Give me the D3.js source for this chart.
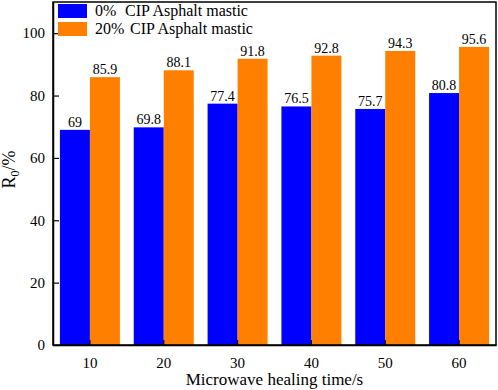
<!DOCTYPE html>
<html>
<head>
<meta charset="utf-8">
<script src="https://cdn.jsdelivr.net/npm/d3@7"></script>
</head>
<body style="margin:0; background:#fff">
<svg id="drawing_region"></svg>
<script>
// data
const times = ['10', '20', '30', '40', '50', '60'];
const series = [['0%', 'CIP Asphalt mastic'], ['20%', 'CIP Asphalt mastic']];
const plain = [69, 69.8, 77.4, 76.5, 75.7, 80.8];
const cip = [85.9, 88.1, 91.8, 92.8, 94.3, 95.6];
const yticks = [0, 20, 40, 60, 80, 100];
const colors = ['#0000ff', '#ff8000'];

const FONT = 'Liberation Serif, Times New Roman, serif';
const width = 498, height = 390;
const margin = {top: 2, right: 2, bottom: 45, left: 53};
const inner_width = width - margin.left - margin.right;
const inner_height = height - margin.top - margin.bottom;

const svg = d3.select('#drawing_region')
  .attr('width', width)
  .attr('height', height)
  .attr('font-family', FONT);

const chart = svg.append('g')
  .attr('transform', `translate(${margin.left}, ${margin.top})`);

const xscale = d3.scaleBand()
  .domain(times)
  .range([0, inner_width]);

// two bars side by side inside each band
const sub = d3.scaleBand()
  .domain([0, 1])
  .range([-30, 30]);

const yscale = d3.scaleLinear()
  .domain([0, 110])
  .range([inner_height, 0]);

const rows = times.map((t, i) => ({time: t, vals: [plain[i], cip[i]]}));

// bars
const groups = chart.selectAll('.grp').data(rows).enter()
  .append('g')
  .attr('transform', d => `translate(${xscale(d.time) + xscale.bandwidth() / 2}, 0)`);

groups.selectAll('rect').data(d => d.vals).enter()
  .append('rect')
  .attr('x', (d, i) => sub(i))
  .attr('y', d => yscale(d))
  .attr('width', sub.bandwidth())
  .attr('height', d => inner_height - yscale(d))
  .attr('fill', (d, i) => colors[i]);

groups.selectAll('.val').data(d => d.vals).enter()
  .append('text')
  .attr('x', (d, i) => sub(i) + sub.bandwidth() / 2)
  .attr('y', d => yscale(d) - 3)
  .attr('text-anchor', 'middle')
  .attr('font-family', FONT)
  .attr('font-size', 14)
  .text(d => d);

// axes
const xaxis = d3.axisBottom(xscale).tickSizeInner(-5).tickSizeOuter(0).tickPadding(12);
const yaxis = d3.axisLeft(yscale).tickValues(yticks).tickSizeInner(-6).tickSizeOuter(0).tickPadding(8);

const xg = chart.append('g')
  .attr('transform', `translate(0, ${inner_height})`)
  .call(xaxis);
const yg = chart.append('g').call(yaxis);

[xg, yg].forEach(g => {
  g.attr('font-family', FONT).attr('font-size', 15);
  g.selectAll('text').attr('fill', '#000').attr('font-family', FONT);
  g.selectAll('line').attr('stroke', '#000').attr('stroke-width', 1.2);
  g.select('.domain').attr('stroke', '#000').attr('stroke-width', 1.5);
});

// frame
chart.append('rect')
  .attr('width', inner_width)
  .attr('height', inner_height)
  .attr('fill', 'none')
  .attr('stroke', '#000')
  .attr('stroke-width', 1.5);

// legend
const legend = chart.append('g').attr('transform', 'translate(5, 2)');
series.forEach((s, i) => {
  const row = legend.append('g').attr('transform', `translate(0, ${i * 18})`);
  row.append('rect').attr('width', 29).attr('height', 14).attr('fill', colors[i]);
  const t = row.append('text').attr('y', 12).attr('font-size', 16).attr('font-family', FONT);
  t.append('tspan').attr('x', 37).text(s[0]);
  t.append('tspan').attr('x', i === 0 ? 67 : 72).text(s[1]);
});

// axis titles
svg.append('text')
  .attr('x', margin.left + inner_width / 2)
  .attr('y', 385)
  .attr('text-anchor', 'middle')
  .attr('font-family', FONT)
  .attr('font-size', 17)
  .text('Microwave healing time/s');

const ylab = svg.append('text')
  .attr('transform', `translate(15, ${margin.top + inner_height / 2 - 4}) rotate(-90)`)
  .attr('text-anchor', 'middle')
  .attr('font-family', FONT)
  .attr('font-size', 18);
ylab.append('tspan').text('R');
ylab.append('tspan').attr('font-size', 12).attr('dy', 4).text('0');
ylab.append('tspan').attr('dy', -4).text('/%');
</script>
</body>
</html>
